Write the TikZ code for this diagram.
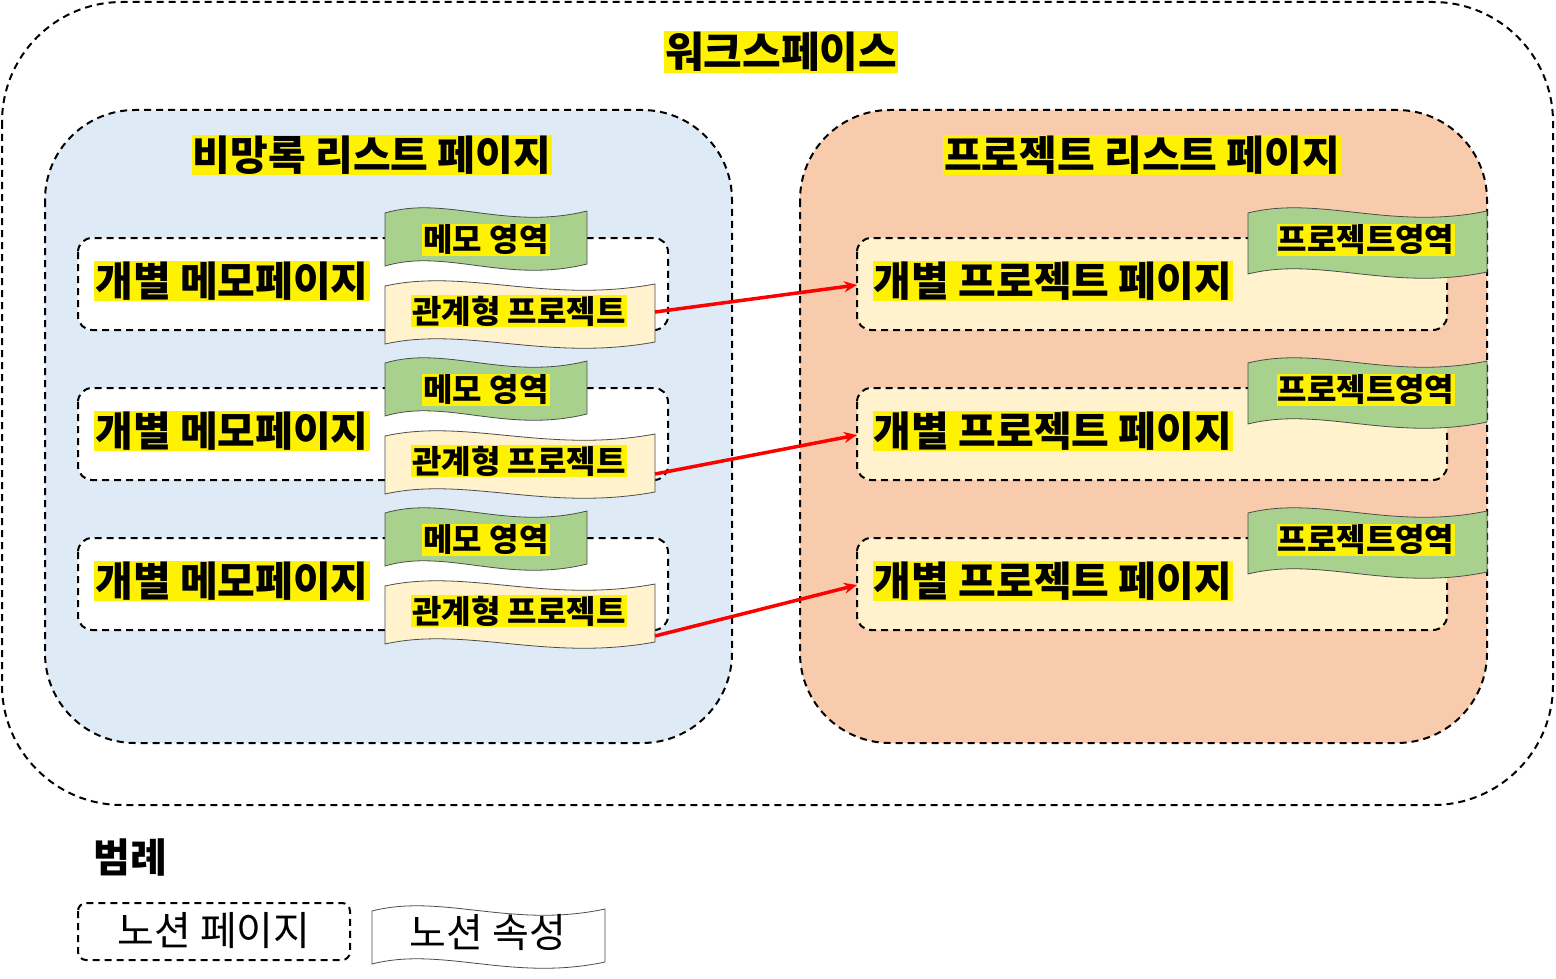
\documentclass[tikz,border=0pt]{standalone}
\usepackage{fontspec}
\setmainfont{Noto Sans CJK KR}
\usetikzlibrary{arrows.meta}
\definecolor{lblue}{RGB}{222,235,247}
\definecolor{lorange}{RGB}{248,203,173}
\definecolor{lgreen}{RGB}{169,209,142}
\definecolor{cream}{RGB}{255,242,204}
\tikzset{
  dsh/.style={draw=black,line width=2pt,dash pattern=on 7pt off 5pt},
  hl/.style={fill=yellow,inner sep=1pt,font=\bfseries},
  arr/.style={draw=red,line width=3.5pt,-{Stealth[length=13pt,width=11pt]}},
  wv/.style={draw=black!70,line width=0.8pt}
}
\newcommand{\wavebox}[5]{% x1 y1 x2 y2 fill
  \pgfmathsetmacro{\xa}{#1}\pgfmathsetmacro{\ya}{#2}
  \pgfmathsetmacro{\ww}{(#3)-(#1)}\pgfmathsetmacro{\hh}{(#4)-(#2)-14}
  \draw[wv,fill=#5] (\xa,\ya+8) .. controls ({\xa+0.3*\ww},\ya-10) and ({\xa+0.6*\ww},\ya+26) .. (#3,\ya+6)
    -- (#3,\ya+6+\hh) .. controls ({\xa+0.6*\ww},\ya+26+\hh) and ({\xa+0.3*\ww},\ya-10+\hh) .. (\xa,\ya+8+\hh) -- cycle;}
\begin{document}
\begin{tikzpicture}[x=1pt,y=-1pt]
\useasboundingbox (0,0) rectangle (1556,979);
\draw[dsh,fill=white,rounded corners=120] (2,2) rectangle (1553,805);
\node[hl,font=\bfseries\fontsize{42}{48}\selectfont] (ws) at (781,52) {워크스페이스};
\draw[dsh,fill=lblue,rounded corners=90] (45,110) rectangle (732,743);
\draw[dsh,fill=lorange,rounded corners=90] (800,110) rectangle (1487,743);
\node[hl,font=\bfseries\fontsize{41}{46}\selectfont] (lt) at (372,155) {비망록 리스트 페이지};
\node[hl,font=\bfseries\fontsize{41}{46}\selectfont] (rt) at (1142,155) {프로젝트 리스트 페이지};
\foreach \i/\dy in {1/0,2/150,3/300}{
  \draw[dsh,fill=white,rounded corners=14] (78,238+\dy) rectangle (668,330+\dy);
  \wavebox{385}{205+\dy}{587}{272+\dy}{lgreen}
  \node[hl,font=\bfseries\fontsize{32}{38}\selectfont] (ma\i) at (486,240+\dy) {메모 영역};
  \wavebox{385}{278+\dy}{655}{350+\dy}{cream}
  \node[hl,font=\bfseries\fontsize{32}{38}\selectfont] (rp\i) at (519,311+\dy) {관계형 프로젝트};
  \node[hl,font=\bfseries\fontsize{41}{46}\selectfont] (mp\i) at (232,281+\dy) {개별 메모페이지};
  \draw[dsh,fill=cream,rounded corners=14] (857,238+\dy) rectangle (1447,330+\dy);
  \node[hl,font=\bfseries\fontsize{41}{46}\selectfont] (pp\i) at (1053,281+\dy) {개별 프로젝트 페이지};
  \wavebox{1248}{205+\dy}{1487}{280+\dy}{lgreen}
  \node[hl,font=\bfseries\fontsize{32}{38}\selectfont] (pa\i) at (1366,240+\dy) {프로젝트영역};
  \coordinate (s\i) at (655,312+\dy+\i*12-12);
  \coordinate (e\i) at (857,285+\dy);
  \draw[arr] (s\i) -- (e\i);
}
\node[font=\bfseries\fontsize{40}{46}\selectfont] (lg) at (130,857) {범례};
\draw[dsh,rounded corners=8] (78,903) rectangle (350,960);
\node[font=\fontsize{40}{46}\selectfont] (np) at (214,931) {노션 페이지};
\wavebox{372}{903}{605}{970}{white}
\node[font=\fontsize{40}{46}\selectfont] (ns) at (488,933) {노션 속성};
\end{tikzpicture}
\end{document}
